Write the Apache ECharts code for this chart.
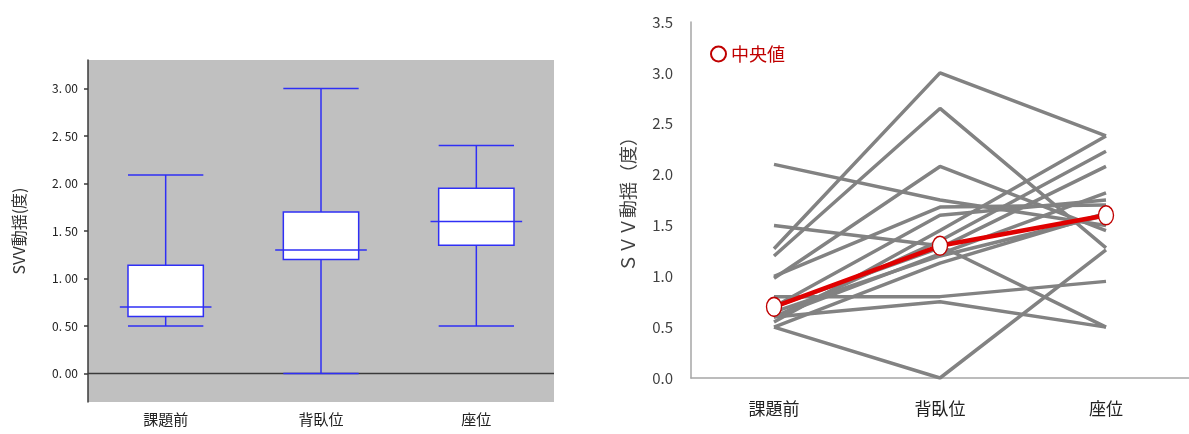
<!DOCTYPE html>
<html>
<head>
<meta charset="utf-8">
<script src="https://cdn.jsdelivr.net/npm/echarts@6/dist/echarts.min.js"></script>
<style>
html,body{margin:0;padding:0;background:#fff;}
#c{width:1189px;height:434px;}
</style>
</head>
<body>
<div id="c"></div>
<script>
// ---- data ----
var categories = ['課題前', '背臥位', '座位'];
// box plot stats per category: [min, Q1, median, Q3, max]
var boxPre    = [0.50, 0.60, 0.70, 1.14, 2.09];
var boxSupine = [0.00, 1.20, 1.30, 1.70, 3.00];
var boxSit    = [0.50, 1.35, 1.60, 1.95, 2.40];
var boxTickValues = [0, 0.5, 1.0, 1.5, 2.0, 2.5, 3.0];
// individual subjects: [課題前, 背臥位, 座位]
var subjects = [
  [1.27, 3.00, 2.38],
  [1.20, 2.65, 1.28],
  [0.98, 2.08, 1.45],
  [0.50, 0.00, 1.26],
  [2.10, 1.75, 1.50],
  [1.50, 1.30, 0.50],
  [0.60, 0.75, 0.50],
  [0.80, 0.80, 0.95],
  [0.55, 1.45, 2.38],
  [0.60, 1.35, 2.23],
  [0.70, 1.28, 2.08],
  [0.60, 1.22, 1.82],
  [0.70, 1.60, 1.75],
  [1.00, 1.68, 1.70],
  [0.50, 1.13, 1.62],
  [0.65, 1.20, 1.60]
];
var medians = [0.70, 1.30, 1.60];

// ---- chart ----
var FONT = "'Noto Sans CJK JP', 'Noto Sans', sans-serif";
var BLUE = '#2f2ff5';
var boxStats = [boxPre, boxSupine, boxSit];
var boxData = boxStats.map(function (s, i) { return [i].concat(s); });

function renderBox(params, api) {
  var i = api.value(0);
  var mn = api.coord([i, api.value(1)]);
  var q1 = api.coord([i, api.value(2)]);
  var md = api.coord([i, api.value(3)]);
  var q3 = api.coord([i, api.value(4)]);
  var mx = api.coord([i, api.value(5)]);
  var band = api.size([1, 0])[0];
  var bw = band * 0.485, mw = band * 0.59;
  var cx = mn[0];
  var ls = { stroke: BLUE, lineWidth: 1.5 };
  return {
    type: 'group',
    children: [
      { type: 'rect', shape: { x: cx - bw / 2, y: q3[1], width: bw, height: q1[1] - q3[1] },
        style: { fill: '#fff', stroke: BLUE, lineWidth: 1.5 } },
      { type: 'line', shape: { x1: cx, y1: mx[1], x2: cx, y2: q3[1] }, style: ls },
      { type: 'line', shape: { x1: cx, y1: q1[1], x2: cx, y2: mn[1] }, style: ls },
      { type: 'line', shape: { x1: cx - bw / 2, y1: mx[1], x2: cx + bw / 2, y2: mx[1] }, style: ls },
      { type: 'line', shape: { x1: cx - bw / 2, y1: mn[1], x2: cx + bw / 2, y2: mn[1] }, style: ls },
      { type: 'line', shape: { x1: cx - mw / 2, y1: md[1], x2: cx + mw / 2, y2: md[1] }, style: ls }
    ]
  };
}

function renderZero(params, api) {
  var cs = params.coordSys;
  var p = api.coord([0, 0]);
  return { type: 'line', shape: { x1: cs.x, y1: p[1], x2: cs.x + cs.width, y2: p[1] },
           style: { stroke: '#3a3a3a', lineWidth: 1.5 } };
}

var series = [
  { type: 'custom', xAxisIndex: 0, yAxisIndex: 0, data: [[0, 0]], renderItem: renderZero, z: 1, silent: true },
  { type: 'custom', xAxisIndex: 0, yAxisIndex: 0, data: boxData, renderItem: renderBox, z: 2, silent: true,
    encode: { x: 0, y: [1, 2, 3, 4, 5] } }
];
subjects.forEach(function (s, k) {
  series.push({ type: 'line', name: 'subject' + (k + 1), xAxisIndex: 1, yAxisIndex: 1, data: s,
    symbol: 'none', silent: true, lineStyle: { color: '#828282', width: 3.5 }, z: 2 });
});
series.push({ type: 'line', name: '中央値', xAxisIndex: 1, yAxisIndex: 1, data: medians,
  symbol: 'circle', symbolSize: [15, 19], z: 5,
  lineStyle: { color: '#e00000', width: 4.5 },
  itemStyle: { color: '#fff', borderColor: '#c00000', borderWidth: 1.5 } });

var chart = echarts.init(document.getElementById('c'));
chart.setOption({
  backgroundColor: '#fff',
  animation: false,
  textStyle: { fontFamily: FONT },
  legend: {
    data: [{ name: '中央値', icon: 'circle',
      itemStyle: { color: '#fff', borderColor: '#c00000', borderWidth: 2 } }],
    left: 705, top: 40, itemWidth: 15, itemHeight: 19,
    textStyle: { color: '#c00000', fontSize: 18, fontFamily: FONT }
  },
  grid: [
    { left: 88, top: 60, width: 466, height: 342, show: true, backgroundColor: '#c0c0c0', borderWidth: 0 },
    { left: 691, top: 22, width: 498, height: 356 }
  ],
  xAxis: [
    { type: 'category', gridIndex: 0, data: categories,
      axisLine: { show: false }, axisTick: { show: false },
      axisLabel: { margin: 10, fontSize: 15, color: '#222', fontFamily: FONT } },
    { type: 'category', gridIndex: 1, data: categories,
      axisLine: { show: true, lineStyle: { color: '#a6a6a6', width: 1.5 } }, axisTick: { show: false },
      axisLabel: { margin: 22, fontSize: 17, color: '#222', fontFamily: FONT } }
  ],
  yAxis: [
    { type: 'value', gridIndex: 0, min: -0.3, max: 3.3,
      name: 'SVV動揺(度)', nameLocation: 'middle', nameGap: 61, nameRotate: 90,
      nameTextStyle: { fontSize: 16, color: '#333', fontFamily: FONT },
      axisLine: { show: true, lineStyle: { color: '#3a3a3a', width: 1.5 } },
      axisTick: { show: true, length: 4, customValues: boxTickValues, lineStyle: { color: '#3a3a3a', width: 1.5 } },
      splitLine: { show: false },
      axisLabel: { customValues: boxTickValues, margin: 10, fontSize: 12, color: '#222', fontFamily: FONT,
        formatter: function (v) { return v.toFixed(2).replace('.', '. '); } } },
    { type: 'value', gridIndex: 1, min: 0, max: 3.5, interval: 0.5,
      name: 'ＳＶＶ動揺（度）', nameLocation: 'middle', nameGap: 54, nameRotate: 90,
      nameTextStyle: { fontSize: 18, color: '#404040', fontFamily: FONT },
      axisLine: { show: true, lineStyle: { color: '#a6a6a6', width: 1.5 } },
      axisTick: { show: false }, splitLine: { show: false },
      axisLabel: { margin: 18, fontSize: 15, color: '#404040', fontFamily: FONT,
        formatter: function (v) { return v.toFixed(1); } } }
  ],
  series: series
});
</script>
</body>
</html>
